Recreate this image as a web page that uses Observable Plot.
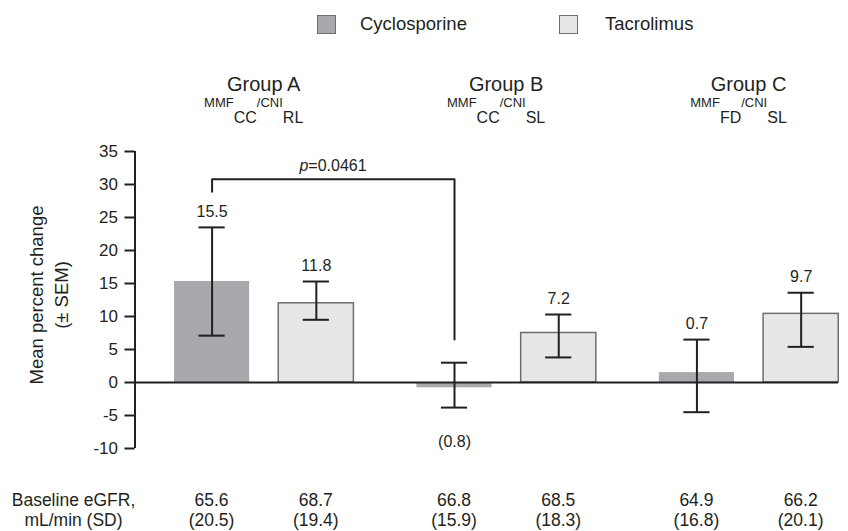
<!DOCTYPE html>
<html>
<head>
<meta charset="utf-8">
<script src="https://cdn.jsdelivr.net/npm/d3@7"></script>
<script src="https://cdn.jsdelivr.net/npm/@observablehq/plot@0.6"></script>
<style>
  body { margin: 0; background: #fff; }
  #wrap { position: relative; width: 848px; height: 531px; overflow: hidden;
          font-family: "Liberation Sans", Arial, Helvetica, sans-serif; color: #231f20; }
  #wrap svg { position: absolute; left: 0; top: 0; }
  .abs { position: absolute; white-space: nowrap; }
  .sw { position: absolute; width: 17px; height: 17px; border: 1.5px solid #6d6e71; }
  .leg { font-size: 18.5px; line-height: 20px; }
  .gh { font-size: 20px; line-height: 20px; transform: translateX(-50%); }
  .gs { font-size: 16px; line-height: 20px; transform: translateX(-50%); }
  .gs .sup { font-size: 13px; position: relative; top: -16px; }
  .cell { font-size: 17.5px; line-height: 20px; text-align: center; transform: translateX(-50%); }
  .ytitle { font-size: 18.5px; line-height: 25px; text-align: center;
            transform: translate(-50%, -50%) rotate(-90deg); }
</style>
</head>
<body>
<div id="wrap"></div>
<script>
// ---- data ----
const groups = ["Group A", "Group B", "Group C"];
const mmfSub = ["CC", "CC", "FD"];
const cniSub = ["RL", "SL", "SL"];
const series = ["Cyclosporine", "Tacrolimus"];
const meanCyc = [15.3, -0.8, 1.5];
const meanTac = [12.0, 7.5, 10.4];
const semHiCyc = [23.5, 3.0, 6.5];
const semLoCyc = [7.1, -3.8, -4.5];
const semHiTac = [15.3, 10.3, 13.6];
const semLoTac = [9.5, 3.8, 5.4];
const labelCyc = ["15.5", "(0.8)", "0.7"];
const labelTac = ["11.8", "7.2", "9.7"];
const egfrCyc = ["65.6", "66.8", "64.9"];
const sdCyc = ["(20.5)", "(15.9)", "(16.8)"];
const egfrTac = ["68.7", "68.5", "66.2"];
const sdTac = ["(19.4)", "(18.3)", "(20.1)"];
const yTicks = [-10, -5, 0, 5, 10, 15, 20, 25, 30, 35];
const pValue = "=0.0461";
const bracketTop = 30.8, bracketLeftEnd = 28.9, bracketRightEnd = 6.5;

// ---- build table ----
const fills = ["#a7a9ac", "#e6e7e8"];
const strokes = ["none", "#6d6e71"];
const pos = (g, s) => g + (s - 0.5) * 0.43;
const half = 0.155, cap = 0.054;
const rows = [];
groups.forEach((grp, g) => {
  rows.push({g, s: 0, mean: meanCyc[g], hi: semHiCyc[g], lo: semLoCyc[g], label: labelCyc[g], egfr: egfrCyc[g], sd: sdCyc[g]});
  rows.push({g, s: 1, mean: meanTac[g], hi: semHiTac[g], lo: semLoTac[g], label: labelTac[g], egfr: egfrTac[g], sd: sdTac[g]});
});
rows.forEach(d => { d.x = pos(d.g, d.s); });

const bracket = [
  {x: pos(0, 0), y: bracketLeftEnd},
  {x: pos(0, 0), y: bracketTop},
  {x: pos(1, 0), y: bracketTop},
  {x: pos(1, 0), y: bracketRightEnd}
];
const pMid = (pos(0, 0) + pos(1, 0)) / 2;

const xMin = -0.533, xMax = 2.369;
const ink = "#231f20";
const font = '"Liberation Sans", Arial, Helvetica, sans-serif';

const plot = Plot.plot({
  width: 848, height: 531,
  marginLeft: 134.5, marginRight: 10, marginTop: 151, marginBottom: 83,
  x: {domain: [xMin, xMax], axis: null},
  y: {domain: [-10, 35], axis: null},
  style: {fontFamily: font, fontSize: "17px", color: ink, background: "transparent", overflow: "visible"},
  marks: [
    Plot.rectY(rows, {x1: d => d.x - half, x2: d => d.x + half, y1: 0, y2: "mean",
      fill: d => fills[d.s], stroke: d => strokes[d.s], strokeWidth: 1.5}),
    Plot.ruleY([0], {stroke: ink, strokeWidth: 2}),
    Plot.ruleX([xMin], {y1: -10, y2: 35, stroke: ink, strokeWidth: 2}),
    Plot.axisY({ticks: yTicks, anchor: "left", tickSize: 10, tickPadding: 7, label: null,
      tickFormat: d => String(d), fontSize: 17, stroke: ink, strokeWidth: 2, fill: ink}),
    Plot.ruleX(rows, {x: "x", y1: "lo", y2: "hi", stroke: ink, strokeWidth: 2}),
    Plot.ruleY(rows, {y: "hi", x1: d => d.x - cap, x2: d => d.x + cap, stroke: ink, strokeWidth: 2}),
    Plot.ruleY(rows, {y: "lo", x1: d => d.x - cap, x2: d => d.x + cap, stroke: ink, strokeWidth: 2}),
    Plot.text(rows.filter(d => d.mean >= 0), {x: "x", y: "hi", text: "label", dy: -16, fontSize: 16, fill: ink}),
    Plot.text(rows.filter(d => d.mean < 0), {x: "x", y: "lo", text: "label", dy: 34, fontSize: 16, fill: ink}),
    Plot.line(bracket, {x: "x", y: "y", stroke: ink, strokeWidth: 2}),
    Plot.text([pValue], {x: pMid, y: bracketTop, text: d => "p", dx: -25, dy: -13, textAnchor: "end", fontStyle: "italic", fontSize: 16, fill: ink}),
    Plot.text([pValue], {x: pMid, y: bracketTop, text: d => d, dx: -25, dy: -13, textAnchor: "start", fontSize: 16, fill: ink})
  ]
});

const wrap = document.getElementById("wrap");
wrap.appendChild(plot);
const xs = plot.scale("x");

function add(html, cls, left, top) {
  const el = document.createElement("div");
  el.className = "abs " + cls;
  el.style.left = left + "px";
  el.style.top = top + "px";
  el.innerHTML = html;
  wrap.appendChild(el);
  return el;
}

// legend
const legX = [317, 559], legTextX = [360, 605];
series.forEach((s, i) => {
  const sw = add("", "sw", legX[i], 15);
  sw.style.background = fills[i];
  add(s, "leg", legTextX[i], 14);
});

// group headers
groups.forEach((grp, g) => {
  const cx = xs.apply(g);
  add(grp, "gh", cx, 74);
  add(`<span class="sup">MMF</span>${mmfSub[g]}<span class="sup">/CNI</span>${cniSub[g]}`, "gs", cx - 10, 108);
});

// y-axis title
add("Mean percent change<br>(± SEM)", "ytitle", 49, 295);

// baseline table
add("Baseline eGFR,<br>mL/min (SD)", "cell", 73.5, 489.5);
rows.forEach(d => {
  add(`${d.egfr}<br>${d.sd}`, "cell", xs.apply(d.x), 489.5);
});
</script>
</body>
</html>
